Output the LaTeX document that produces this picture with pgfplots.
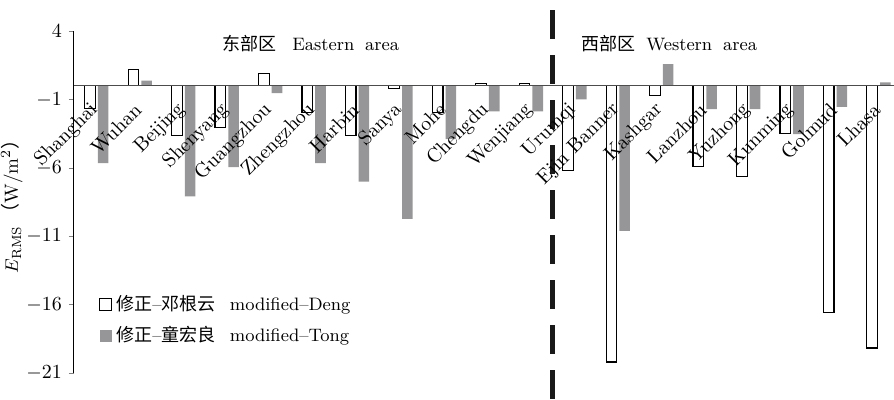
\documentclass[border=0pt]{standalone}
\usepackage{fontspec}
\newfontfamily\cjk{Noto Sans CJK SC}
\usepackage{pgfplots}
\usepackage{pgfplotstable}
\pgfplotsset{compat=1.18}
\definecolor{tonggray}{RGB}{150,150,152}
\pgfplotstableread{
x y
0 -1.66
1 1.20
2 -3.66
3 -3.03
4 0.91
5 -1.96
6 -3.66
7 -0.18
8 -1.96
9 0.16
10 0.16
11 -6.19
12 -20.2
13 -0.74
14 -5.90
15 -6.63
16 -3.49
17 -16.6
18 -19.18
}\deng
\pgfplotstableread{
x y
0 -5.66
1 0.38
2 -8.09
3 -5.95
4 -0.55
5 -5.66
6 -7.02
7 -9.74
8 -3.90
9 -1.88
10 -1.88
11 -0.99
12 -10.62
13 1.57
14 -1.72
15 -1.72
16 -3.54
17 -1.55
18 0.25
}\tong
\begin{document}
\begin{tikzpicture}
\begin{axis}[
  scale only axis, width=410pt, height=171pt,
  xmin=-0.52, xmax=18.35, ymin=-21, ymax=4,
  axis y line=left, axis x line=middle,
  axis line style={-},
  x axis line style={gray!60!black, line width=0.5pt},
  y axis line style={black, line width=0.5pt},
  axis on top,
  clip=false,
  ybar=1.3pt, bar width=5.3pt,
  xtick={0,...,18},
  xticklabels={Shanghai,Wuhan,Beijing,Shenyang,Guangzhou,Zhengzhou,Harbin,Sanya,Mohe,Chengdu,Wenjiang,Urumqi,Ejin Banner,Kashgar,Lanzhou,Yuzhong,Kunming,Golmud,Lhasa},
  x tick label style={yshift=-5.5pt, xshift=1.5pt, rotate=45, anchor=east, font=\fontsize{10}{11}\selectfont},
  major x tick style={draw=none},
  ytick={-21,-16,-11,-6,-1,4},
  y tick label style={font=\fontsize{10}{12}\selectfont},
  tick align=outside, major tick length=2.5pt,
  ylabel={$E_{\mathrm{RMS}}$\,{\cjk （}W/m$^2${\cjk ）}},
  ylabel style={font=\fontsize{9.5}{10}\selectfont, yshift=-5pt},
  legend style={at={(0.023,0.252)}, anchor=north west, draw=none, fill=none,
    font=\fontsize{9}{10}\selectfont, row sep=2.5pt},
  legend cell align=left,
]
\addplot[draw=black, fill=white, line width=0.6pt,
  legend image code/.code={\draw[black, fill=white, line width=0.5pt] (0pt,-3pt) rectangle (6pt,3pt);}]
  table[x=x,y=y]{\deng};
\addlegendentry{{\cjk 修正}–{\cjk 邓根云}\hspace{0.8em}modified–Deng}
\addplot[draw=none, fill=tonggray,
  legend image code/.code={\fill[tonggray] (0pt,-3pt) rectangle (6pt,3pt);}]
  table[x=x,y=y]{\tong};
\addlegendentry{{\cjk 修正}–{\cjk 童宏良}\hspace{0.8em}modified–Tong}
\draw[line width=2.6pt, black!90, dash pattern=on 14.3pt off 8.2pt]
  (axis cs:10.5,5.52) -- (axis cs:10.5,-23.15);
\node[anchor=base west, font=\fontsize{9}{10}\selectfont, inner sep=0pt]
  at (axis cs:2.88,2.58) {{\cjk 东部区}\hspace{0.9em}Eastern\hspace{0.6em}area};
\node[anchor=base west, font=\fontsize{9}{10}\selectfont, inner sep=0pt]
  at (axis cs:11.15,2.58) {{\cjk 西部区}\hspace{0.6em}Western\hspace{0.6em}area};
\coordinate (bl) at (rel axis cs:0,0);
\coordinate (tr) at (rel axis cs:1,1);
\end{axis}
\pgfresetboundingbox
\path[use as bounding box] ([shift={(-37pt,-13.5pt)}]bl) rectangle ([shift={(0pt,15.5pt)}]tr);
\end{tikzpicture}
\end{document}
